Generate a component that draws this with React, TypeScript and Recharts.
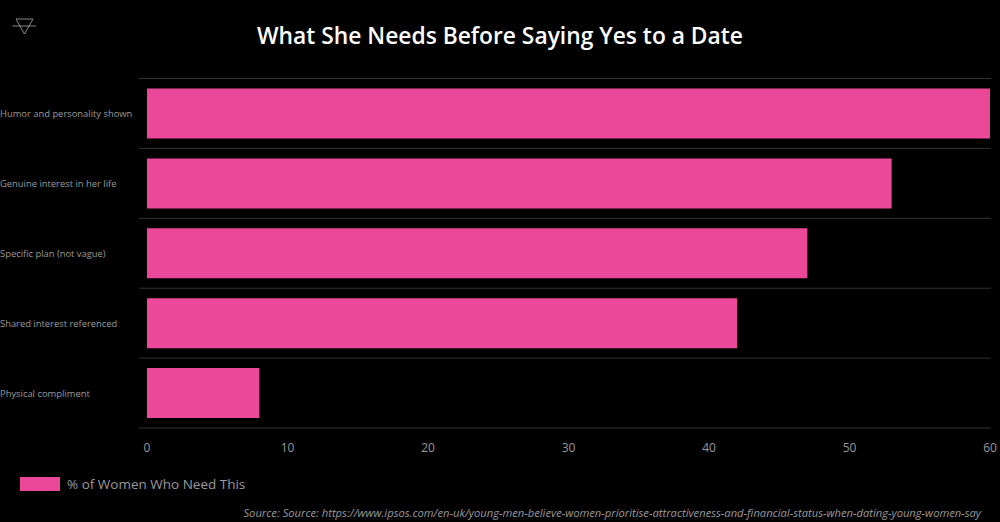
import { BarChart, Bar, XAxis, YAxis, CartesianGrid, Legend } from "recharts";

const categories = [
  "Humor and personality shown",
  "Genuine interest in her life",
  "Specific plan (not vague)",
  "Shared interest referenced",
  "Physical compliment",
];
const values = [60, 53, 47, 42, 8];
const xTicks = [0, 10, 20, 30, 40, 50, 60];
const seriesName = "% of Women Who Need This";
const title = "What She Needs Before Saying Yes to a Date";
const source =
  "Source: Source: https://www.ipsos.com/en-uk/young-men-believe-women-prioritise-attractiveness-and-financial-status-when-dating-young-women-say";

const data = categories.map((name, i) => ({ name, value: values[i] }));

const FONT = "'Open Sans', 'Noto Sans', sans-serif";
const PINK = "#ec4899";
const MUTED = "#9a9a9a";

function CategoryTick({ y, payload }: any) {
  return (
    <text x={0} y={y} dy={3.5} fontSize={9.4} fill={MUTED} stroke="none" fontFamily={FONT}>
      {payload.value}
    </text>
  );
}

function ValueTick({ x, y, payload }: any) {
  return (
    <text x={x} y={y} dy={12} textAnchor="middle" fontSize={12} fill={MUTED} stroke="none" fontFamily={FONT}>
      {payload.value}
    </text>
  );
}

// grid lines stick out a bit to the left of the zero position
function GridLine({ x1, x2, y1, y2 }: any) {
  return <line x1={x1 - 8} x2={x2 + 1} y1={y1} y2={y2} stroke="#333" strokeWidth={1} />;
}

function LegendBox() {
  return (
    <div style={{ display: "flex", alignItems: "center", fontFamily: FONT, fontSize: 13.5, color: MUTED }}>
      <span style={{ width: 40, height: 14, background: PINK, marginRight: 7, marginLeft: 20 }} />
      {seriesName}
    </div>
  );
}

export default function App() {
  return (
    <div style={{ position: "absolute", left: 0, top: 0, width: 1000, height: 522, background: "#000", overflow: "hidden" }}>
      <svg width={40} height={40} style={{ position: "absolute", left: 10, top: 14 }}>
        <path d="M6 5 H23 L14.5 20 Z M2.5 12 H26" fill="none" stroke="#aaa" strokeWidth={0.8} />
      </svg>
      <div style={{ position: "absolute", top: 19, left: 0, width: 1000, textAlign: "center", fontFamily: FONT, fontSize: 22.8, fontWeight: 600, color: "#fff", lineHeight: "34px" }}>
        {title}
      </div>
      <BarChart
        width={1000}
        height={522}
        data={data}
        layout="vertical"
        barSize={50}
        margin={{ top: 78.5, right: 10, bottom: 40, left: 0 }}
      >
        <CartesianGrid
          vertical={false}
          horizontal={(props: any) => <GridLine key={props.key} {...props} />}
          horizontalCoordinatesGenerator={({ offset }: any) =>
            categories.map((_, i) => offset.top + (offset.height * i) / categories.length).concat(offset.top + offset.height)
          }
        />
        <XAxis
          type="number"
          domain={[0, 60]}
          ticks={xTicks}
          height={30}
          axisLine={false}
          tickLine={false}
          interval={0}
          tick={<ValueTick />}
          tickMargin={6}
        />
        <YAxis type="category" dataKey="name" width={147} axisLine={false} tickLine={false} interval={0} tick={<CategoryTick />} />
        <Legend height={24} verticalAlign="bottom" content={<LegendBox />} wrapperStyle={{ left: 0, bottom: 23, width: 400 }} />
        <Bar dataKey="value" name={seriesName} fill={PINK} isAnimationActive={false} />
      </BarChart>
      <div style={{ position: "absolute", right: 19, top: 505, fontFamily: FONT, fontSize: 11.2, fontStyle: "italic", color: MUTED, whiteSpace: "nowrap" }}>
        {source}
      </div>
    </div>
  );
}
